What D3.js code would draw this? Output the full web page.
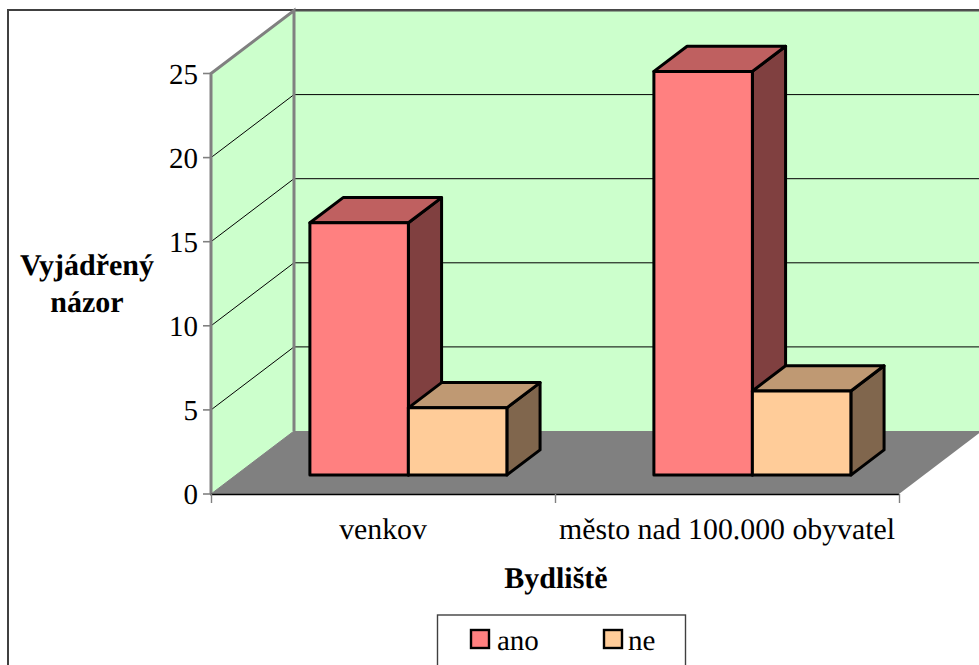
<!DOCTYPE html>
<html><head><meta charset="utf-8">
<script src="https://cdn.jsdelivr.net/npm/d3@7"></script>
<style>html,body{margin:0;padding:0;background:#fff;overflow:hidden}svg{display:block}text{font-family:"Liberation Serif","Times New Roman",serif;fill:#000;text-rendering:geometricPrecision}</style>
</head><body><svg id="c" width="979" height="665"></svg>
<script>
const categories = ["venkov", "město nad 100.000 obyvatel"];
const seriesNames = ["ano", "ne"];
const ano = [15, 24];
const ne = [4, 5];
const yTicks = [0, 5, 10, 15, 20, 25];
const xTitle = "Bydliště";
const yTitle = ["Vyjádřený", "názor"];

const faces = {ano:{front:"#FF8080",top:"#BF6060",side:"#804040"},ne:{front:"#FFCC99",top:"#BF9973",side:"#80664D"}};
const values = {ano, ne};
const svg = d3.select("#c");
const x = d3.scaleBand().domain(categories).range([211, 899]);
const y = d3.scaleLinear().domain([0, 25]).range([494, 73.5]);
const depth = {x: 83, y: -63};
// Project a point (px on base line, value, depth 0..1)
const P = (px, v, d) => [px + depth.x*d, y(v) + depth.y*d];
const path = pts => "M" + pts.map(p => p.join(",")).join("L") + "Z";

svg.append("rect").attr("x",8).attr("y",10).attr("width",1100).attr("height",800).attr("fill","#fff").attr("stroke","#404040").attr("stroke-width",2);

const x0=x.range()[0], x1=x.range()[1];
svg.append("path").attr("d",path([P(x0,0,1),P(x1+200,0,1),P(x1+200,25,1),P(x0,25,1)])).attr("fill","#CCFFCC");
svg.append("path").attr("d",path([P(x0,0,0),P(x0,0,1),P(x0,25,1),P(x0,25,0)])).attr("fill","#CCFFCC");
svg.append("path").attr("d",path([P(x0,0,0),P(x1,0,0),P(x1,0,1),P(x0,0,1)])).attr("fill","#808080");
svg.append("line").attr("x1",x0+depth.x).attr("x2",979).attr("y1",P(x0,25,1)[1]).attr("y2",P(x0,25,1)[1]).attr("stroke","#505050").attr("stroke-width",2);

yTicks.filter(t=>t>0&&t<25).forEach(t=>{
  svg.append("path").attr("d","M"+P(x0,t,0)+"L"+P(x0,t,1)+"L"+P(x1+200,t,1)).attr("fill","none").attr("stroke","#000").attr("stroke-width",1);
});
svg.append("path").attr("d","M"+P(x0,0,0)+"L"+P(x0,25,0)+"L"+P(x0,25,1)+"L"+P(x0,0,1)).attr("fill","none").attr("stroke","#808080").attr("stroke-width",3);
svg.append("path").attr("d","M"+P(x0,0,1)+"L"+P(x0,0,0)).attr("stroke","#808080").attr("stroke-width",1);
svg.append("line").attr("x1",x0-1).attr("x2",x1).attr("y1",y(0)+.5).attr("y2",y(0)+.5).attr("stroke","#000").attr("stroke-width",1.6);

const g = svg.append("g");
const barW = x.bandwidth()*0.2863, offs = x.bandwidth()*0.2151, d0=0.3, d1=0.7;
categories.forEach((c,i)=>{
  seriesNames.forEach((s,j)=>{
    const v = values[s][i], L = x(c)+offs+barW*j, R = L+barW, f = faces[s];
    const st = sel => sel.attr("stroke","#000").attr("stroke-width",3).attr("stroke-linejoin","round");
    g.append("path").attr("d",path([P(R,0,d0),P(R,0,d1),P(R,v,d1),P(R,v,d0)])).attr("fill",f.side).call(st);
    g.append("path").attr("d",path([P(L,v,d0),P(R,v,d0),P(R,v,d1),P(L,v,d1)])).attr("fill",f.top).call(st);
    g.append("path").attr("d",path([P(L,0,d0),P(R,0,d0),P(R,v,d0),P(L,v,d0)])).attr("fill",f.front).call(st);
  });
});

const axY = svg.append("g");
yTicks.forEach(t=>{
  axY.append("line").attr("x1",203).attr("x2",x0).attr("y1",y(t)).attr("y2",y(t)).attr("stroke","#808080").attr("stroke-width",1.6);
  axY.append("text").attr("x",198).attr("y",y(t)+10).attr("text-anchor","end").attr("font-size",29).text(t);
});
[x0, x0+x.bandwidth(), x1].forEach(px=>svg.append("line").attr("x1",px+.5).attr("x2",px+.5).attr("y1",494).attr("y2",503).attr("stroke","#808080").attr("stroke-width",1.4));
categories.forEach((c,i)=>{
  svg.append("text").attr("x",x(c)+x.bandwidth()/2+(i?-0:0)).attr("y",539).attr("text-anchor","middle").attr("font-size",29.8).text(c);
});
svg.append("text").attr("x",556).attr("y",588).attr("text-anchor","middle").attr("font-size",30).attr("font-weight","bold").text(xTitle);
yTitle.forEach((t,i)=>svg.append("text").attr("x",87).attr("y",275+i*37).attr("text-anchor","middle").attr("font-size",30).attr("font-weight","bold").text(t));

svg.append("rect").attr("x",437.5).attr("y",615).attr("width",248).attr("height",80).attr("fill","#fff").attr("stroke","#404040").attr("stroke-width",1.4);
[[471,497],[604,628]].forEach((p,i)=>{
  const s = seriesNames[i];
  svg.append("rect").attr("x",p[0]).attr("y",630).attr("width",18).attr("height",18).attr("fill",faces[s].front).attr("stroke","#000").attr("stroke-width",2.4);
  svg.append("text").attr("x",p[1]).attr("y",650).attr("font-size",29).text(s);
});
</script></body></html>
